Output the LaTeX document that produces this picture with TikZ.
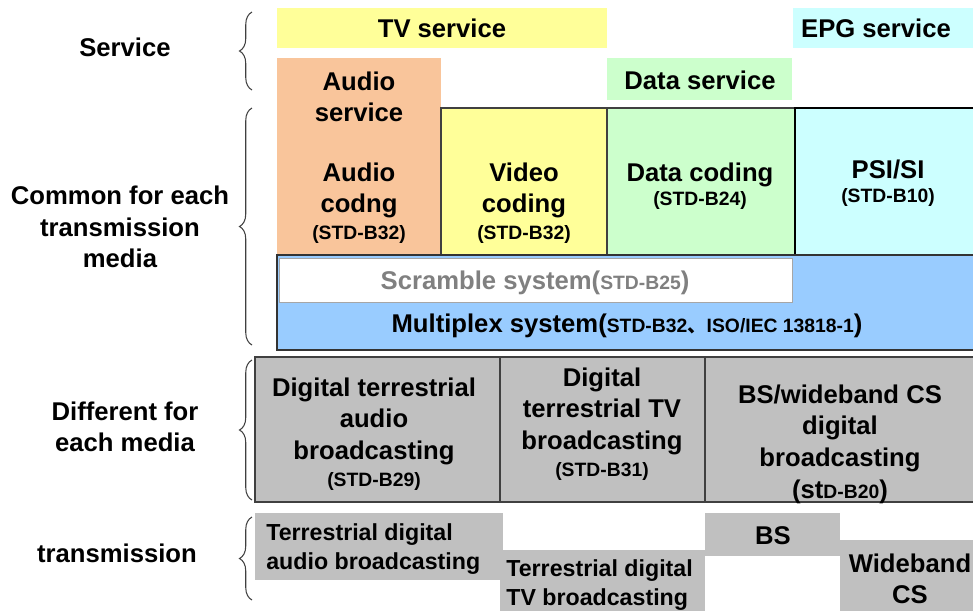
\documentclass[tikz,border=0pt]{standalone}
\usepackage{fontspec}
\setmainfont{Liberation Sans}
\newfontfamily\cjk{Noto Sans CJK JP}
\usetikzlibrary{positioning, decorations.pathreplacing}

\definecolor{tvyellow}{HTML}{FFFF99}
\definecolor{audorange}{HTML}{F9C59B}
\definecolor{datagreen}{HTML}{CCFFCC}
\definecolor{epgcyan}{HTML}{CCFFFF}
\definecolor{muxblue}{HTML}{99CCFF}
\definecolor{mediagray}{HTML}{C0C0C0}
\definecolor{scramgray}{HTML}{808080}

\newcommand{\stdsize}{\fontsize{11}{12}\selectfont}

\begin{document}
\begin{tikzpicture}[
    x=0.02cm, y=-0.02cm,
    box/.style={anchor=north west, inner sep=0pt, outer sep=0pt},
    cell/.style={box, draw=black!75, line width=0.6pt},
    txt/.style={align=center, inner sep=0pt, font=\bfseries\fontsize{14.6}{18}\selectfont},
    layer/.style={decorate, decoration={brace, amplitude=0.25cm}, draw=black!75, line width=0.6pt}
]
\useasboundingbox (0,0) rectangle (973,610);

% Service layer
\node[box, fill=tvyellow, minimum width=6.6cm, minimum height=0.8cm] (tv) at (277,8) {};
\node[box, fill=epgcyan, minimum width=3.6cm, minimum height=0.8cm] (epg) at (793,8) {};
\node[box, fill=audorange, minimum width=3.28cm, minimum height=3.94cm] (audsrv) at (277,58) {};
\node[box, fill=datagreen, minimum width=3.7cm, minimum height=0.84cm] (datasrv) at (607,58) {};

% Coding layer
\node[cell, fill=tvyellow, minimum width=3.32cm, minimum height=2.94cm] (video) at (441,108) {};
\node[cell, fill=datagreen, minimum width=3.76cm, minimum height=2.94cm] (datacod) at (607,108) {};
\node[box, fill=epgcyan, draw=black, line width=1.5pt, minimum width=3.7cm, minimum height=2.94cm] (psi) at (795,108) {};

% Multiplex and scramble
\node[box, fill=muxblue, draw=black!80, line width=1.2pt, minimum width=14.2cm, minimum height=1.9cm] (mux) at (277,255) {};
\node[box, fill=white, draw=black!35, line width=0.5pt, minimum width=10.28cm, minimum height=0.88cm] (scram) at (279,258) {};

% Media layer
\node[cell, fill=mediagray, minimum width=4.9cm, minimum height=2.9cm] (media1) at (255,357) {};
\node[cell, fill=mediagray, minimum width=4.1cm, minimum height=2.9cm] (media2) at (500,357) {};
\node[cell, fill=mediagray, minimum width=5.6cm, minimum height=2.9cm] (media3) at (705,357) {};

% Transmission layer
\node[box, fill=mediagray, minimum width=4.96cm, minimum height=1.34cm] (trans1) at (255,513) {};
\node[box, fill=mediagray, minimum width=4.1cm, minimum height=1.3cm] (trans2) at (500,550) {};
\node[box, fill=mediagray, minimum width=2.7cm, minimum height=0.86cm] (trans3) at (705,513) {};
\node[box, fill=mediagray, minimum width=2.8cm, minimum height=1.5cm] (trans4) at (840,540) {};

% Texts
\node[txt] (tv_t) at (442,28) {TV service};
\node[txt] (epg_t) at (876,28) {EPG service};
\node[txt] (audsrv_t) at (359,97) {Audio\\service};
\node[txt] (datasrv_t) at (700,80) {Data service};
\node[txt] (audcod_t) at (359,203) {Audio\\codng\\[-0.1cm]{\stdsize (STD-B32)}};
\node[txt] (video_t) at (524,203) {Video\\coding\\[-0.1cm]{\stdsize (STD-B32)}};
\node[txt] (datacod_t) at (700,186) {Data coding\\[-0.15cm]{\stdsize (STD-B24)}};
\node[txt] (psi_t) at (888,183) {PSI/SI\\[-0.15cm]{\stdsize (STD-B10)}};
\node[txt, text=scramgray] (scram_t) at (535,283) {Scramble system({\stdsize STD-B25})};
\node[txt] (mux_t) at (627,326) {Multiplex system({\stdsize STD-B32{\cjk 、}ISO/IEC 13818-1})};
\node[txt] (media1_t) at (374,434) {Digital terrestrial\\audio\\broadcasting\\[-0.1cm]{\stdsize (STD-B29)}};
\node[txt] (media2_t) at (602,424) {Digital\\terrestrial TV\\broadcasting\\[-0.1cm]{\stdsize (STD-B31)}};
\node[txt] (media3_t) at (840,444) {BS/wideband CS\\digital\\broadcasting\\({st\stdsize D-B20})};
\node[txt, align=left, anchor=west, font=\bfseries\fontsize{13.2}{16}\selectfont] (trans1_t) at (266,549) {Terrestrial digital\\audio broadcasting};
\node[txt, align=left, anchor=west, font=\bfseries\fontsize{13.2}{16}\selectfont] (trans2_t) at (506,585) {Terrestrial digital\\TV broadcasting};
\node[txt] (trans3_t) at (773,536) {BS};
\node[txt] (trans4_t) at (910,579) {Wideband\\CS};

% Layer labels
\node[txt] (service) at (125,47) {Service};
\node[txt] (common) at (120,227) {Common for each\\transmission\\media};
\node[txt] (different) at (125,427) {Different for\\each media};
\node[txt] (transmission) at (117,553) {transmission};

% Braces
\coordinate (b1a) at (252,90);  \coordinate (b1b) at (252,12);
\coordinate (b2a) at (252,345); \coordinate (b2b) at (252,108);
\coordinate (b3a) at (252,500); \coordinate (b3b) at (252,360);
\coordinate (b4a) at (252,600); \coordinate (b4b) at (252,517);
\draw[layer] (b1a) -- (b1b);
\draw[layer] (b2a) -- (b2b);
\draw[layer] (b3a) -- (b3b);
\draw[layer] (b4a) -- (b4b);

\end{tikzpicture}
\end{document}
